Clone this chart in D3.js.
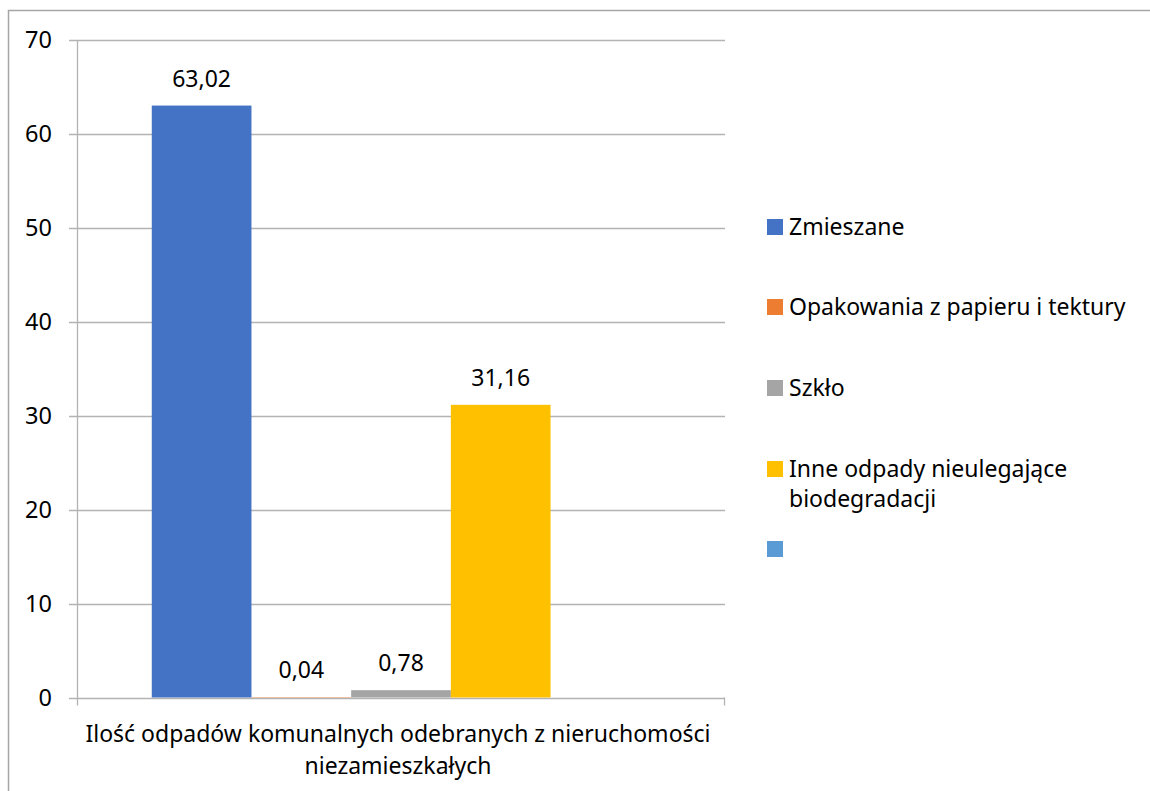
<!DOCTYPE html>
<html>
<head>
<meta charset="utf-8">
<script src="https://cdn.jsdelivr.net/npm/d3@7"></script>
<style>
  body { margin: 0; background: #fff; }
  #chart { width: 1150px; height: 791px; }
  text { font-family: "Noto Sans", "Open Sans", sans-serif; fill: #000; }
</style>
</head>
<body>
<div id="chart"></div>
<script>
// data
var categories = ["Ilość odpadów komunalnych odebranych z nieruchomości niezamieszkałych"];
var categoryLines = ["Ilość odpadów komunalnych odebranych z nieruchomości", "niezamieszkałych"];
var seriesNames = ["Zmieszane", "Opakowania z papieru i tektury", "Szkło", "Inne odpady nieulegające biodegradacji", ""];
var seriesValues = [63.02, 0.04, 0.78, 31.16, null];
var seriesLabels = ["63,02", "0,04", "0,78", "31,16", ""];
var seriesColors = ["#4472c4", "#ed7d31", "#a5a5a5", "#ffc000", "#5b9bd5"];
var yTicks = [0, 10, 20, 30, 40, 50, 60, 70];

var W = 1150, H = 791;
var plot = {left: 77, right: 725, top: 40, bottom: 697.5};

var svg = d3.select("#chart").append("svg")
  .attr("width", W)
  .attr("height", H);

// outer chart border (cut by the right and bottom edge)
svg.append("path")
  .attr("d", "M8.5," + (H + 5) + "V10.5H" + (W + 5))
  .attr("fill", "none")
  .attr("stroke", "#a6a6a6")
  .attr("stroke-width", 1.5);

var yScale = d3.scaleLinear()
  .domain([0, 70])
  .range([plot.bottom, plot.top]);

var xScale = d3.scaleBand()
  .domain(categories)
  .range([plot.left, plot.right]);

// 5 bars, gap width 150% split on both sides
var xInner = d3.scaleBand()
  .domain(d3.range(seriesNames.length))
  .range([0, xScale.bandwidth()])
  .paddingInner(0)
  .paddingOuter(0.75);

// gridlines
svg.append("g")
  .selectAll("line")
  .data(yTicks)
  .join("line")
    .attr("x1", plot.left - 8)
    .attr("x2", plot.right)
    .attr("y1", d => Math.round(yScale(d)) + 0.5)
    .attr("y2", d => Math.round(yScale(d)) + 0.5)
    .attr("stroke", "#b3b3b3")
    .attr("stroke-width", 1.3);

// y axis labels
svg.append("g")
  .selectAll("text")
  .data(yTicks)
  .join("text")
    .attr("x", 52)
    .attr("y", d => yScale(d))
    .attr("dy", "0.36em")
    .attr("text-anchor", "end")
    .style("font-size", "23.5px")
    .text(d => d);

// axis lines
svg.append("line")
  .attr("x1", plot.left + 0.5).attr("x2", plot.left + 0.5)
  .attr("y1", plot.top).attr("y2", plot.bottom + 8)
  .attr("stroke", "#b3b3b3").attr("stroke-width", 1.3);
svg.append("line")
  .attr("x1", plot.right - 0.5).attr("x2", plot.right - 0.5)
  .attr("y1", plot.bottom).attr("y2", plot.bottom + 8)
  .attr("stroke", "#b3b3b3").attr("stroke-width", 1.3);

// bars
var barData = seriesValues.map((v, i) => ({i: i, value: v, label: seriesLabels[i], cat: categories[0]}));

var barG = svg.append("g");
barG.selectAll("rect")
  .data(barData.filter(d => d.value != null))
  .join("rect")
    .attr("x", d => xScale(d.cat) + xInner(d.i))
    .attr("width", xInner.bandwidth())
    .attr("y", d => yScale(d.value))
    .attr("height", d => yScale(0) - yScale(d.value))
    .attr("fill", d => seriesColors[d.i]);

// value labels
barG.selectAll("text")
  .data(barData.filter(d => d.value != null))
  .join("text")
    .attr("x", d => xScale(d.cat) + xInner(d.i) + xInner.bandwidth() / 2)
    .attr("y", d => yScale(d.value) - 19)
    .attr("text-anchor", "middle")
    .style("font-size", "23px")
    .text(d => d.label);

// category label
svg.append("g")
  .selectAll("text")
  .data(categoryLines)
  .join("text")
    .attr("x", xScale(categories[0]) + xScale.bandwidth() / 2 - 3)
    .attr("y", (d, i) => 742 + i * 32)
    .attr("text-anchor", "middle")
    .style("font-size", "23px")
    .text(d => d);

// legend
var legendY = [227, 307, 388, 469, 549];
var legendLines = [["Zmieszane"], ["Opakowania z papieru i tektury"], ["Szkło"], ["Inne odpady nieulegające", "biodegradacji"], [""]];

var legend = svg.append("g")
  .selectAll("g")
  .data(seriesNames)
  .join("g")
    .attr("transform", (d, i) => "translate(767," + legendY[i] + ")");
legend.append("rect")
  .attr("x", 0)
  .attr("y", -8)
  .attr("width", 16)
  .attr("height", 16)
  .attr("fill", (d, i) => seriesColors[i]);
legend.append("text")
  .attr("x", 22)
  .attr("y", 0)
  .style("font-size", "23px")
  .selectAll("tspan")
  .data((d, i) => legendLines[i])
  .join("tspan")
    .attr("x", 22)
    .attr("dy", (d, j) => j === 0 ? "0.36em" : "30px")
    .text(d => d);
</script>
</body>
</html>
